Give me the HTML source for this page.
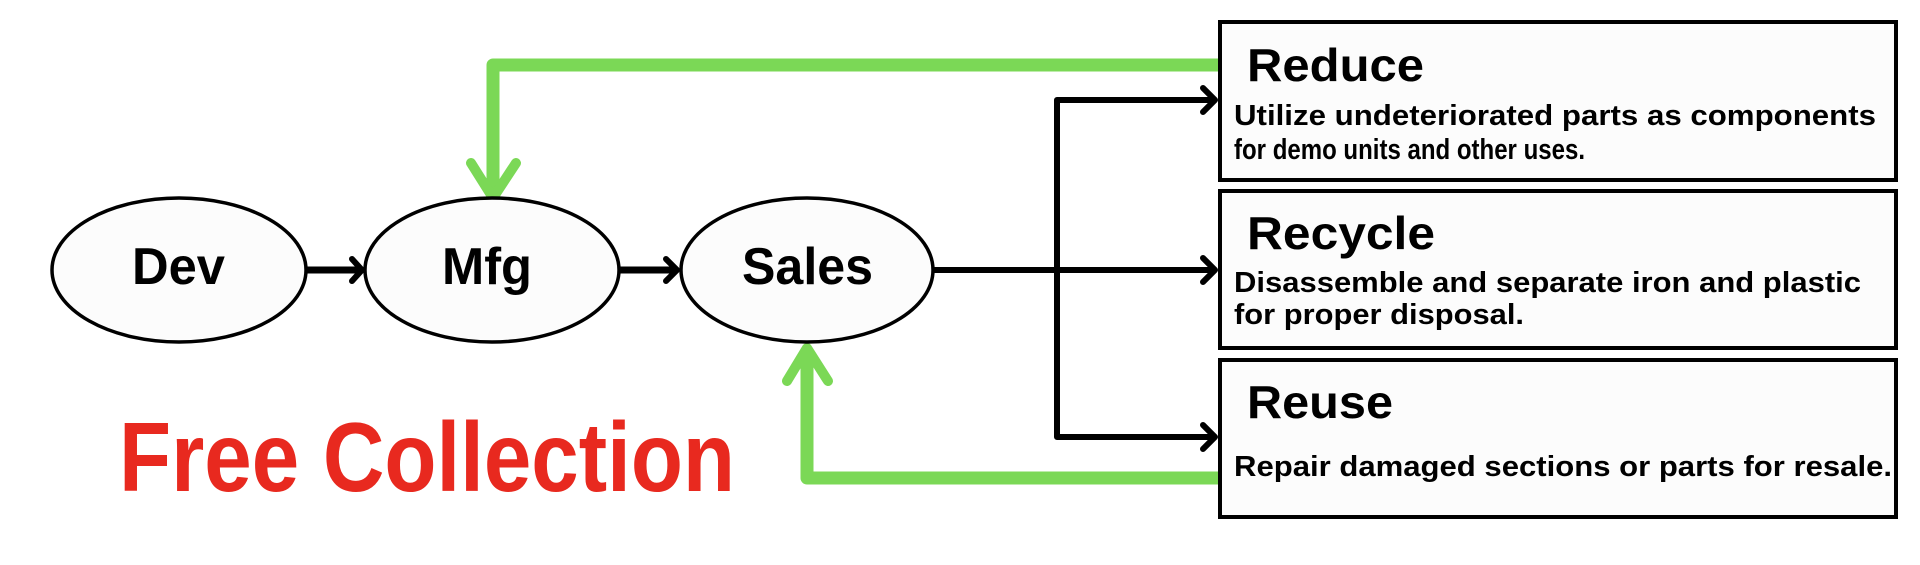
<!DOCTYPE html>
<html><head><meta charset="utf-8"><style>html,body{margin:0;padding:0;background:#fff;}svg{display:block}</style></head>
<body>
<svg width="1920" height="565" viewBox="0 0 1920 565" xmlns="http://www.w3.org/2000/svg">
<g fill="none" stroke-linecap="round" stroke-linejoin="round">
 <polyline points="1218,65 493,65 493,192" stroke="#7bd856" stroke-width="13" stroke-linecap="butt"/>
 <polyline points="471,163 493,198 516,163" stroke="#7bd856" stroke-width="10"/>
 <polyline points="1218,478 807,478 807,352" stroke="#7bd856" stroke-width="13" stroke-linecap="butt"/>
 <polyline points="787,381 807,348 828,381" stroke="#7bd856" stroke-width="10"/>
 <line x1="306" y1="270" x2="360" y2="270" stroke="#000" stroke-width="7"/>
 <polyline points="352,259 362,270 352,281" stroke="#000" stroke-width="6"/>
 <line x1="620" y1="270" x2="676" y2="270" stroke="#000" stroke-width="7"/>
 <polyline points="666,259 677,270 666,281" stroke="#000" stroke-width="6"/>
 <line x1="934" y1="270" x2="1212" y2="270" stroke="#000" stroke-width="6"/>
 <polyline points="1215,100 1057,100 1057,437 1215,437" stroke="#000" stroke-width="6" stroke-linecap="butt"/>
 <polyline points="1203,88 1215,100 1203,112" stroke="#000" stroke-width="6"/>
 <polyline points="1203,258 1215,270 1203,282" stroke="#000" stroke-width="6"/>
 <polyline points="1203,425 1215,437 1203,449" stroke="#000" stroke-width="6"/>
</g>
<g fill="#fcfcfc" stroke="#000" stroke-width="3.5">
 <ellipse cx="179" cy="270" rx="127" ry="72"/>
 <ellipse cx="492" cy="270" rx="127" ry="72"/>
 <ellipse cx="807" cy="270" rx="126" ry="72"/>
 <rect x="1220" y="22" width="676" height="158" stroke-width="4"/>
 <rect x="1220" y="191" width="676" height="157" stroke-width="4"/>
 <rect x="1220" y="360" width="676" height="157" stroke-width="4"/>
</g>
<g font-family="Liberation Sans, sans-serif" font-weight="bold" fill="#000">
 <text x="132" y="284" font-size="52" textLength="93" lengthAdjust="spacingAndGlyphs">Dev</text>
 <text x="442" y="284" font-size="52" textLength="90" lengthAdjust="spacingAndGlyphs">Mfg</text>
 <text x="742" y="284" font-size="52" textLength="131" lengthAdjust="spacingAndGlyphs">Sales</text>
 <text x="119" y="491" font-size="98" fill="#e8291f" textLength="616" lengthAdjust="spacingAndGlyphs">Free Collection</text>
 <text x="1247" y="81" font-size="46" textLength="177" lengthAdjust="spacingAndGlyphs">Reduce</text>
 <text x="1234" y="125" font-size="29" textLength="642" lengthAdjust="spacingAndGlyphs">Utilize undeteriorated parts as components</text>
 <text x="1234" y="159" font-size="29" textLength="351" lengthAdjust="spacingAndGlyphs">for demo units and other uses.</text>
 <text x="1247" y="249" font-size="46" textLength="188" lengthAdjust="spacingAndGlyphs">Recycle</text>
 <text x="1234" y="292" font-size="29" textLength="627" lengthAdjust="spacingAndGlyphs">Disassemble and separate iron and plastic</text>
 <text x="1234" y="324" font-size="29" textLength="290" lengthAdjust="spacingAndGlyphs">for proper disposal.</text>
 <text x="1247" y="418" font-size="46" textLength="146" lengthAdjust="spacingAndGlyphs">Reuse</text>
 <text x="1234" y="476" font-size="29" textLength="658" lengthAdjust="spacingAndGlyphs">Repair damaged sections or parts for resale.</text>
</g>
</svg>
</body></html>
